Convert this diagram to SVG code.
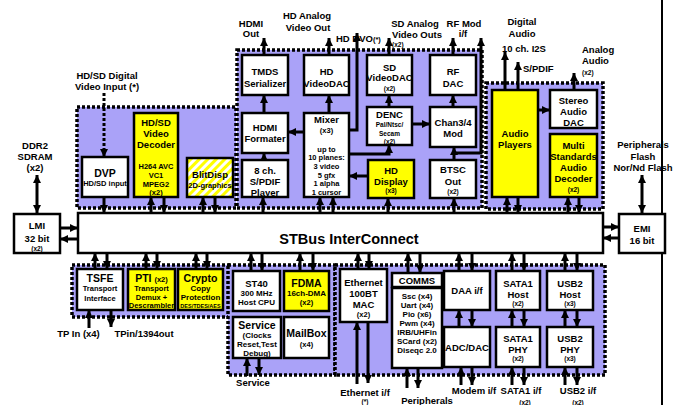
<svg xmlns="http://www.w3.org/2000/svg" width="679" height="405" viewBox="0 0 679 405">
<style>
text{font-family:"Liberation Sans",Arial,sans-serif;font-weight:bold;text-anchor:middle;fill:#000}
.m{font-size:9.5px}.b{font-size:10.5px}.s{font-size:7.5px}.xs{font-size:6.5px}.t{font-size:5.5px}.l{font-size:14.5px}.c8{font-size:8px}
.st{text-anchor:start}
.grp{fill:#aaa2f8;stroke:#000;stroke-width:3.5;stroke-dasharray:3 2}
.box{fill:#fff;stroke:#000;stroke-width:2.5}
.y{fill:#ffff00;stroke:#000;stroke-width:2.5}
.h{fill:url(#hatch);stroke:#000;stroke-width:2.5}
.cn{fill:none;stroke:#000;stroke-width:3;marker-end:url(#a)}
.dbl{marker-start:url(#a)}
.dt{stroke-dasharray:3 2}
.ln{fill:none;stroke:#000;stroke-width:2}
</style>
<defs>
<marker id="a" viewBox="0 0 8 8" refX="8" refY="4" markerWidth="8" markerHeight="8" markerUnits="userSpaceOnUse" orient="auto-start-reverse"><path d="M0,0L8,4L0,8z" fill="#000"/></marker>
<pattern id="hatch" width="6" height="6" patternUnits="userSpaceOnUse" patternTransform="rotate(45)"><rect width="6" height="6" fill="#fff"/><rect width="3" height="6" fill="#ffff00"/></pattern>
</defs>
<rect width="679" height="405" fill="#fff"/>
<g id="containers">
<rect class="grp" x="77" y="107" width="159" height="101"/>
<rect class="grp" x="237" y="50" width="245" height="158"/>
<rect class="grp" x="486" y="83" width="117" height="126"/>
<rect class="grp" x="72" y="265" width="158" height="52"/>
<rect class="grp" x="228" y="265" width="107" height="110"/>
<rect class="grp" x="335" y="265" width="270" height="110"/>
</g>
<g id="connectors">
<path class="ln" d="M662,0V405"/>
<path class="cn dt" d="M104,93V157"/>
<path class="cn" d="M104,197V213"/>
<path class="cn" d="M151,213V197"/>
<path class="cn" d="M164,197V213"/>
<path class="cn" d="M203,213V197"/>
<path class="cn" d="M215,197V213"/>
<path class="cn" d="M263,213V197"/>
<path class="cn" d="M320,213V197"/>
<path class="cn" d="M333,213V197"/>
<path class="cn" d="M388,213V198"/>
<path class="cn" d="M454,213V198"/>
<path class="cn" d="M507,213V197"/>
<path class="cn" d="M518,197V213"/>
<path class="cn" d="M568,213V197"/>
<path class="cn" d="M579,197V213"/>
<path class="cn" d="M264,113V95"/>
<path class="cn" d="M264,160V153"/>
<path class="cn" d="M304,132H288"/>
<path class="cn" d="M329,113V95"/>
<path class="cn" d="M349,154H389V145"/>
<path class="cn" d="M368,176H349"/>
<path class="cn" d="M389,107V95"/>
<path class="cn" d="M412,124H430"/>
<path class="cn" d="M453,107V95"/>
<path class="cn" d="M454,160V147"/>
<path class="cn" d="M349,130H357V33"/>
<path class="cn" d="M454,153H481V38"/>
<path class="cn" d="M264,55V38"/>
<path class="cn" d="M329,55V38"/>
<path class="cn" d="M389,55V38"/>
<path class="cn" d="M453,55V38"/>
<path class="cn" d="M505,90V52"/>
<path class="cn" d="M518,90V62"/>
<path class="cn" d="M574,90V73"/>
<path class="cn" d="M538,110H550"/>
<path class="cn dbl" d="M37,175V213"/>
<path class="cn" d="M60,228H78"/>
<path class="cn" d="M78,239H60"/>
<path class="cn dbl" d="M642,175V213"/>
<path class="cn" d="M603,227H619"/>
<path class="cn" d="M619,238H603"/>
<path class="cn" d="M95,269V253"/>
<path class="cn" d="M107,253V269"/>
<path class="cn" d="M146,269V253"/>
<path class="cn" d="M157,253V269"/>
<path class="cn" d="M196,269V253"/>
<path class="cn" d="M207,253V269"/>
<path class="cn" d="M251,271V253"/>
<path class="cn" d="M262,253V271"/>
<path class="cn" d="M300,271V253"/>
<path class="cn" d="M313,253V271"/>
<path class="cn" d="M358,269V253"/>
<path class="cn" d="M369,253V269"/>
<path class="cn" d="M408,273V253"/>
<path class="cn" d="M420,253V273"/>
<path class="cn" d="M459,271V253"/>
<path class="cn" d="M472,253V271"/>
<path class="cn" d="M512,271V253"/>
<path class="cn" d="M524,253V271"/>
<path class="cn" d="M565,271V253"/>
<path class="cn" d="M577,253V271"/>
<path class="cn" d="M459,327V310"/>
<path class="cn" d="M472,310V327"/>
<path class="cn" d="M512,327V310"/>
<path class="cn" d="M524,310V327"/>
<path class="cn" d="M565,327V310"/>
<path class="cn" d="M577,310V327"/>
<path class="cn" d="M89,328V310"/>
<path class="cn" d="M111,310V327"/>
<path class="cn" d="M247,376V358"/>
<path class="cn" d="M259,358V375"/>
<path class="cn" d="M357,384V322"/>
<path class="cn" d="M368,322V383"/>
<path class="cn" d="M407,388V368"/>
<path class="cn" d="M418,368V388"/>
<path class="cn" d="M461,385V367"/>
<path class="cn" d="M472,367V385"/>
<path class="cn" d="M512,385V367"/>
<path class="cn" d="M524,367V385"/>
<path class="cn" d="M565,385V367"/>
<path class="cn" d="M577,367V385"/>
</g>
<g id="bus"><rect class="box" x="78" y="213" width="525" height="40"/><text class="l" x="349" y="244">STBus InterConnect</text></g>
<g id="lmi"><rect class="box" x="14" y="214" width="46" height="39"/><text class="m" x="37" y="228.5">LMI</text><text class="m" x="37" y="241.5">32 bit</text><text class="xs" x="37" y="250.5">(x2)</text></g>
<g id="emi"><rect class="box" x="619" y="214" width="46" height="39"/><text class="m" x="642" y="232">EMI</text><text class="m" x="642" y="244">16 bit</text></g>
<g id="dvp"><rect class="box" x="82" y="157" width="46" height="40"/><text class="b" x="105" y="177">DVP</text><text class="s" x="105" y="186">HD/SD input</text></g>
<g id="decoder"><rect class="y" x="134" y="113" width="44" height="84"/><text class="m" x="156" y="125.5">HD/SD</text><text class="m" x="156" y="136.5">Video</text><text class="m" x="156" y="147.5">Decoder</text><text class="s" x="156" y="168.5">H264 AVC</text><text class="s" x="156" y="177.5">VC1</text><text class="s" x="156" y="186.5">MPEG2</text><text class="s" x="156" y="195">(x2)</text></g>
<g id="blitdisp"><rect class="h" x="187" y="158" width="46" height="39"/><text class="m" x="210" y="177.5">BlitDisp</text><text class="s" x="210" y="187.5">2D-graphics</text></g>
<g id="tmds"><rect class="box" x="242" y="55" width="46" height="40"/><text class="m" x="265" y="74.5">TMDS</text><text class="m" x="265" y="86.5">Serializer</text></g>
<g id="hdvideodac"><rect class="box" x="304" y="55" width="45" height="40"/><text class="m" x="326.5" y="74.5">HD</text><text class="m" x="326.5" y="86.5">VideoDAC</text></g>
<g id="sdvideodac"><rect class="box" x="367" y="55" width="45" height="40"/><text class="m" x="389.5" y="70.5">SD</text><text class="m" x="389.5" y="81">VideoDAC</text><text class="xs" x="389.5" y="90.5">(x2)</text></g>
<g id="rfdac"><rect class="box" x="430" y="55" width="46" height="40"/><text class="m" x="453" y="74.5">RF</text><text class="m" x="453" y="86.5">DAC</text></g>
<g id="hdmiformater"><rect class="box" x="242" y="113" width="46" height="40"/><text class="m" x="265" y="130.5">HDMI</text><text class="m" x="265" y="141.5">Formater</text></g>
<g id="spdifplayer"><rect class="box" x="242" y="160" width="46" height="37"/><text class="m" x="265" y="173.5">8 ch.</text><text class="m" x="265" y="184.5">S/PDIF</text><text class="m" x="265" y="195.5">Player</text></g>
<g id="mixer"><rect class="box" x="304" y="113" width="45" height="84"/><text class="m" x="326.5" y="122.5">Mixer</text><text class="s" x="326.5" y="132.5">(x3)</text><text class="s" x="326.5" y="151.5">up to</text><text class="s" x="326.5" y="160">10 planes:</text><text class="s" x="326.5" y="169">3 video</text><text class="s" x="326.5" y="177.5">5 gfx</text><text class="s" x="326.5" y="186">1 alpha</text><text class="s" x="326.5" y="194.5">1 cursor</text></g>
<g id="denc"><rect class="box" x="367" y="107" width="45" height="38"/><text class="m" x="389.5" y="117.5">DENC</text><text class="xs" x="389.5" y="126.5">Pal/Ntsc/</text><text class="xs" x="389.5" y="135.5">Secam</text><text class="xs" x="389.5" y="144">(x2)</text></g>
<g id="chanmod"><rect class="box" x="430" y="107" width="46" height="40"/><text class="m" x="453" y="125.5">Chan3/4</text><text class="m" x="453" y="136.5">Mod</text></g>
<g id="hddisplay"><rect class="y" x="368" y="160" width="46" height="38"/><text class="m" x="391" y="173.5">HD</text><text class="m" x="391" y="184.5">Display</text><text class="xs" x="391" y="193">(x3)</text></g>
<g id="btsc"><rect class="box" x="430" y="160" width="46" height="38"/><text class="m" x="453" y="172.5">BTSC</text><text class="m" x="453" y="184.5">Out</text><text class="xs" x="453" y="193.5">(x2)</text></g>
<g id="audioplayers"><rect class="y" x="492" y="90" width="46" height="107"/><text class="m" x="515" y="136.5">Audio</text><text class="m" x="515" y="147.5">Players</text></g>
<g id="stereodac"><rect class="box" x="550" y="90" width="47" height="38"/><text class="m" x="573.5" y="103.5">Stereo</text><text class="m" x="573.5" y="114.5">Audio</text><text class="m" x="573.5" y="125.5">DAC</text></g>
<g id="audiodecoder"><rect class="y" x="550" y="134" width="47" height="63"/><text class="m" x="573.5" y="148.5">Multi</text><text class="m" x="573.5" y="159.5">Standards</text><text class="m" x="573.5" y="170.5">Audio</text><text class="m" x="573.5" y="181.5">Decoder</text><text class="xs" x="573.5" y="192">(x2)</text></g>
<g id="tsfe"><rect class="box" x="77" y="269" width="46" height="41"/><text class="b" x="100" y="282">TSFE</text><text class="s" x="100" y="291">Transport</text><text class="s" x="100" y="300.5">Interface</text></g>
<g id="pti"><rect class="y" x="128" y="269" width="47" height="41"/><text class="b" x="151.5" y="282">PTI <tspan class="s">(x2)</tspan></text><text class="s" x="151.5" y="290.5">Transport</text><text class="s" x="151.5" y="299.5">Demux +</text><text class="s" x="151.5" y="307.5">Descrambler</text></g>
<g id="crypto"><rect class="y" x="178" y="269" width="45" height="41"/><text class="b" x="200.5" y="282">Crypto</text><text class="c8" x="200.5" y="291">Copy</text><text class="c8" x="200.5" y="300">Protection</text><text class="t" x="200.5" y="308">DES/TDES/AES</text></g>
<g id="st40"><rect class="box" x="233" y="271" width="47" height="40"/><text class="m" x="256.5" y="286.5">ST40</text><text class="c8" x="256.5" y="296">300 MHz</text><text class="c8" x="256.5" y="305">Host CPU</text></g>
<g id="fdma"><rect class="y" x="284" y="271" width="45" height="40"/><text class="b" x="306.5" y="286.5">FDMA</text><text class="c8" x="306.5" y="296">16ch-DMA</text><text class="s" x="306.5" y="305">(x2)</text></g>
<g id="service"><rect class="box" x="233" y="317" width="48" height="41"/><text class="b" x="257" y="328.5">Service</text><text class="c8" x="257" y="338">(Clocks</text><text class="c8" x="257" y="347">Reset,Test</text><text class="c8" x="257" y="356">Debug)</text></g>
<g id="mailbox"><rect class="box" x="284" y="317" width="45" height="41"/><text class="b" x="306.5" y="336.5">MailBox</text><text class="s" x="306.5" y="347">(x4)</text></g>
<g id="ethernet"><rect class="box" x="340" y="269" width="47" height="53"/><text class="m" x="363.5" y="285.5">Ethernet</text><text class="m" x="363.5" y="296.5">100BT</text><text class="m" x="363.5" y="307.5">MAC</text><text class="s" x="363.5" y="316.5">(x2)</text></g>
<g id="comms"><rect class="box" x="392" y="273" width="50" height="14"/><text class="m" x="417" y="284">COMMS</text><rect class="box" x="392" y="288" width="50" height="80"/><text class="c8" x="417" y="299">Ssc (x4)</text><text class="c8" x="417" y="308">Uart (x4)</text><text class="c8" x="417" y="317">Pio (x6)</text><text class="c8" x="417" y="326">Pwm (x4)</text><text class="c8" x="417" y="335">IRB/UHFin</text><text class="c8" x="417" y="344">SCard (x2)</text><text class="c8" x="417" y="353">Diseqc 2.0</text></g>
<g id="daa"><rect class="box" x="444" y="271" width="46" height="39"/><text class="m" x="467" y="293.5">DAA i/f</text></g>
<g id="adcdac"><rect class="box" x="444" y="327" width="46" height="40"/><text class="m" x="467" y="350.5">ADC/DAC</text></g>
<g id="satahost"><rect class="box" x="496" y="271" width="44" height="39"/><text class="m" x="518" y="286.5">SATA1</text><text class="m" x="518" y="297.5">Host</text><text class="xs" x="518" y="306">(x2)</text></g>
<g id="sataphy"><rect class="box" x="496" y="327" width="44" height="40"/><text class="m" x="518" y="341.5">SATA1</text><text class="m" x="518" y="352.5">PHY</text><text class="xs" x="518" y="361">(x2)</text></g>
<g id="usbhost"><rect class="box" x="547" y="271" width="46" height="39"/><text class="m" x="570" y="286.5">USB2</text><text class="m" x="570" y="297.5">Host</text><text class="xs" x="570" y="306">(x3)</text></g>
<g id="usbphy"><rect class="box" x="547" y="327" width="46" height="40"/><text class="m" x="570" y="341.5">USB2</text><text class="m" x="570" y="352.5">PHY</text><text class="xs" x="570" y="361">(x3)</text></g>
<g id="labels">
<text class="m" x="107" y="79">HD/SD Digital</text><text class="m" x="107" y="90">Video Input (*)</text>
<text class="m" x="35" y="149">DDR2</text><text class="m" x="35" y="160">SDRAM</text><text class="m" x="35" y="171">(x2)</text>
<text class="m" x="251" y="26.5">HDMI</text><text class="m" x="251" y="37">Out</text>
<text class="m" x="307" y="18.5">HD Analog</text><text class="m" x="308" y="30.5">Video Out</text>
<text class="m st" x="336" y="41.5">HD DVO<tspan class="s">(*)</tspan></text>
<text class="m" x="415" y="26.5">SD Analog</text><text class="m" x="417" y="37.5">Video Outs</text><text class="xs st" x="392" y="47">(x2)</text>
<text class="m" x="464" y="26.5">RF Mod</text><text class="m" x="463" y="37">i/f</text>
<text class="m" x="522" y="24.5">Digital</text><text class="m" x="522" y="36.5">Audio</text><text class="m" x="524" y="51.5">10 ch. I2S</text><text class="m st" x="523" y="71.5">S/PDIF</text>
<text class="m st" x="582" y="52.5">Analog</text><text class="m st" x="582" y="63.5">Audio</text><text class="xs st" x="582" y="74.5">(x2)</text>
<text class="m" x="643" y="147.5">Peripherals</text><text class="m" x="643" y="159.5">Flash</text><text class="m" x="643" y="170.5">Nor/Nd Flash</text>
<text class="m" x="78.5" y="336.5">TP In (x4)</text><text class="m" x="144" y="336.5">TPin/1394out</text>
<text class="m" x="253" y="385.5">Service</text>
<text class="m" x="365" y="395.5">Ethernet i/f</text><text class="xs" x="365" y="404">(*)</text>
<text class="m" x="427" y="403.5">Peripherals</text>
<text class="m" x="474" y="393.5">Modem i/f</text>
<text class="m" x="521" y="393.5">SATA1 i/f</text><text class="xs" x="525" y="404.5">(x2)</text>
<text class="m" x="578" y="393.5">USB2 i/f</text><text class="xs" x="578" y="404.5">(x2)</text>
</g>
</svg>
